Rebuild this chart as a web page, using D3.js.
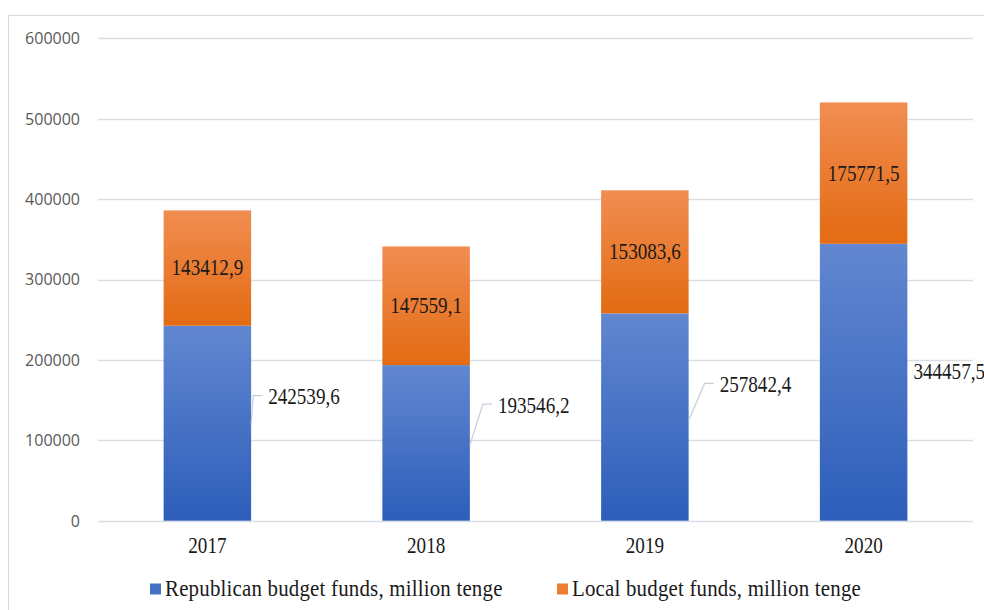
<!DOCTYPE html>
<html><head><meta charset="utf-8">
<script src="https://cdn.jsdelivr.net/npm/d3@7"></script>
<style>
html,body{margin:0;padding:0;background:#fff;}
svg{display:block;}
</style></head>
<body><svg id="chart" width="984" height="610"></svg>
<script>
const years = ["2017", "2018", "2019", "2020"];
const republican = [242539.6, 193546.2, 257842.4, 344457.5];
const local = [143412.9, 147559.1, 153083.6, 175771.5];
const repLabels = ["242539,6", "193546,2", "257842,4", "344457,5"];
const localLabels = ["143412,9", "147559,1", "153083,6", "175771,5"];
const yTicks = [0, 100000, 200000, 300000, 400000, 500000, 600000];
const seriesNames = ["Republican budget funds, million tenge", "Local budget funds, million tenge"];

// manual label placement (layout, px relative to bar top-right corner of republican segment)
const repLabelLayout = [
  {dx: 17, dy: 71, lineDy: 99, line: true},
  {dx: 28, dy: 40, lineDy: 80, line: true},
  {dx: 31, dy: 71, lineDy: 107, line: true},
  {dx: 6, dy: 128, lineDy: 0, line: false}
];

const svg = d3.select("#chart");
const W = 984, H = 610;
const margin = {left: 98, right: 11, top: 38.3, bottom: 89.3};
const x = d3.scaleBand().domain(years).range([margin.left, W - margin.right]).paddingInner(0.6).paddingOuter(0.3);
const y = d3.scaleLinear().domain([0, 600000]).range([H - margin.bottom, margin.top]);

const sx = 0.85;

const defs = svg.append("defs");
function grad(id, c1, c2) {
  const g = defs.append("linearGradient").attr("id", id).attr("x1", 0).attr("y1", 0).attr("x2", 0).attr("y2", 1);
  g.append("stop").attr("offset", "0%").attr("stop-color", c1);
  g.append("stop").attr("offset", "100%").attr("stop-color", c2);
}
grad("gBlue", "#6287d0", "#2d5eba");
grad("gOrange", "#f18d52", "#e36b12");

svg.append("rect").attr("x", 8.5).attr("y", 15.5).attr("width", 1000).attr("height", 700)
  .attr("fill", "#fff").attr("stroke", "#d9d9d9").attr("stroke-width", 1);

svg.append("g").selectAll("line").data(yTicks).join("line")
  .attr("x1", margin.left).attr("x2", W - margin.right)
  .attr("y1", d => Math.round(y(d)) + 0.5).attr("y2", d => Math.round(y(d)) + 0.5)
  .attr("stroke", "#d9dde5").attr("stroke-width", 1.3);

const yAxis = d3.axisLeft(y).tickValues(yTicks).tickSize(0).tickPadding(0).tickFormat(d3.format("d"));
const ya = svg.append("g").attr("transform", "translate(80,0)").call(yAxis);
ya.select(".domain").remove();
ya.attr("font-family", null).attr("font-size", null);
ya.selectAll("text").style("font-family", "Open Sans").style("font-size", "16px")
  .attr("fill", "#595959").attr("dy", "0.34em");

const g = svg.append("g");
g.selectAll("rect.rep").data(years).join("rect").attr("class", "rep")
  .attr("x", d => x(d)).attr("width", x.bandwidth())
  .attr("y", (d, i) => y(republican[i])).attr("height", (d, i) => y(0) - y(republican[i]))
  .attr("fill", "url(#gBlue)");
g.selectAll("rect.loc").data(years).join("rect").attr("class", "loc")
  .attr("x", d => x(d)).attr("width", x.bandwidth())
  .attr("y", (d, i) => y(republican[i] + local[i])).attr("height", (d, i) => y(republican[i]) - y(republican[i] + local[i]))
  .attr("fill", "url(#gOrange)");

function serText(sel) {
  return sel.style("font-family", "Liberation Serif").style("font-size", "22.5px").attr("fill", "#1a1a1a");
}

g.selectAll("text.lab").data(years).join("text")
  .call(serText)
  .attr("transform", (d, i) => `translate(${x(d) + x.bandwidth() / 2},${(y(republican[i]) + y(republican[i] + local[i])) / 2}) scale(${sx},1)`)
  .attr("text-anchor", "middle").attr("dy", "0.33em")
  .text((d, i) => localLabels[i]);

years.forEach((d, i) => {
  const L = repLabelLayout[i];
  const bx = x(d) + x.bandwidth();
  const top = y(republican[i]);
  const lx = bx + L.dx, ly = top + L.dy;
  if (L.line) {
    g.append("path")
      .attr("d", `M${bx},${top + L.lineDy} L${lx - 15},${ly - 1} L${lx - 6},${ly - 1}`)
      .attr("fill", "none").attr("stroke", "#c5cddb").attr("stroke-width", 1.2);
  }
  g.append("text").call(serText)
    .attr("transform", `translate(${lx},${ly}) scale(${sx},1)`)
    .attr("dy", "0.33em")
    .text(repLabels[i]);
});

g.selectAll("text.yr").data(years).join("text").call(serText)
  .attr("transform", d => `translate(${x(d) + x.bandwidth() / 2},553) scale(${sx},1)`)
  .attr("text-anchor", "middle")
  .text(d => d);

const legColors = ["#4472c4", "#ed7d31"];
const legX = [150, 557];
const leg = svg.append("g");
seriesNames.forEach((name, i) => {
  leg.append("rect").attr("x", legX[i]).attr("y", 583.5).attr("width", 11).attr("height", 11).attr("fill", legColors[i]);
  leg.append("text").call(serText).attr("transform", `translate(${legX[i] + 15},596) scale(0.93,1)`)
    .attr("letter-spacing", "0.2")
    .text(name);
});
</script></body></html>
